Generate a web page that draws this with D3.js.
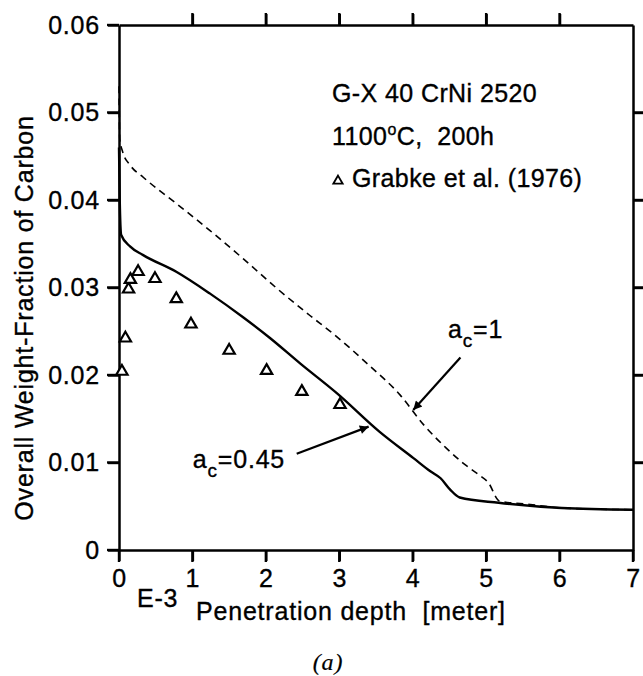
<!DOCTYPE html>
<html>
<head>
<meta charset="utf-8">
<script src="https://cdn.jsdelivr.net/npm/d3@7"></script>
<style>
  body { margin: 0; background: #fff; }
  svg { font-family: "Liberation Sans", Arial, sans-serif; }
  svg text { white-space: pre; letter-spacing: 0.8px; stroke: #000; stroke-width: 0.35px; fill: #000; }
</style>
</head>
<body>
<div id="chart"></div>
<script>
// a_c = 0.45 (solid line)
var solidX = [0, 0.01, 0.03, 0.15, 0.33, 0.78, 1.24, 1.69, 2.06, 2.47, 2.97, 3.55, 4.01, 4.24, 4.38, 4.51, 4.64, 5.17, 6.03, 7.0];
var solidY = [0.046, 0.040, 0.036, 0.0347, 0.0337, 0.0318, 0.0293, 0.0266, 0.0242, 0.0213, 0.0179, 0.0135, 0.0105, 0.0090, 0.0082, 0.0069, 0.0060, 0.0054, 0.0048, 0.0046];

// a_c = 1 (dashed line)
var dashX = [0, 0.01, 0.05, 0.15, 0.33, 0.78, 1.24, 1.69, 2.15, 2.60, 2.92, 3.38, 3.83, 4.15, 4.45, 4.69, 4.90, 5.03, 5.18, 5.6, 6.03, 7.0];
var dashY = [0.053, 0.047, 0.0455, 0.0440, 0.0426, 0.0396, 0.0365, 0.0333, 0.0299, 0.0268, 0.0247, 0.0213, 0.0177, 0.0143, 0.0117, 0.0099, 0.0086, 0.0077, 0.0056, 0.0052, 0.0048, 0.0046];

// Grabke et al. (1976) measurements
var obsX = [0.04, 0.087, 0.13, 0.155, 0.26, 0.49, 0.78, 0.98, 1.5, 2.01, 2.49, 3.01];
var obsY = [0.0204, 0.0242, 0.0298, 0.0309, 0.0318, 0.0310, 0.0287, 0.0258, 0.0228, 0.0205, 0.0181, 0.0166];

var xTicks = [0, 1, 2, 3, 4, 5, 6, 7];
var yTicks = [0, 0.01, 0.02, 0.03, 0.04, 0.05, 0.06];

var legendLines = ["G-X 40 CrNi 2520", "1100\u00b0C,  200h", "Grabke et al. (1976)"];

var margin = {top: 25, left: 119};

var x = d3.scaleLinear().domain([0, 7]).range([0, 514]);
var y = d3.scaleLinear().domain([0, 0.06]).range([525, 0]);

var svg = d3.select("#chart").append("svg")
    .attr("width", 643)
    .attr("height", 676);

var g = svg.append("g")
    .attr("transform", "translate(" + margin.left + "," + margin.top + ")");

function fmtY(d) { return d === 0 ? "0" : d3.format(".2f")(d); }

// axes, ticks outward on all four sides
var axes = [
  {ax: d3.axisBottom(x).tickValues(xTicks).tickFormat(d3.format("d")), t: "translate(0,525)"},
  {ax: d3.axisTop(x).tickValues(xTicks.slice(1, -1)).tickFormat(""), t: "translate(0,0)"},
  {ax: d3.axisLeft(y).tickValues(yTicks).tickFormat(fmtY), t: "translate(0,0)"},
  {ax: d3.axisRight(y).tickValues(yTicks.slice(1, -1)).tickFormat(""), t: "translate(514,0)"}
];
axes.forEach(function (a) {
  var ag = g.append("g")
      .attr("class", "axis")
      .attr("transform", a.t)
      .call(a.ax.tickSizeInner(11).tickSizeOuter(0).tickPadding(8));
  ag.select(".domain").attr("stroke-width", 2.5).attr("stroke", "#000");
  ag.selectAll(".tick line").attr("stroke-width", 2.4).attr("stroke", "#000");
  ag.selectAll(".tick text").attr("font-size", 25)
      .attr("font-family", "Liberation Sans, Arial, sans-serif");
});

// filled tick bars as well (outward)
var tb = g.append("g").attr("fill", "#000");
tb.selectAll(".xb").data(xTicks).enter().append("rect")
    .attr("x", function (d) { return x(d) - 1.2; }).attr("y", 525)
    .attr("width", 2.4).attr("height", 12);
tb.selectAll(".xt").data(xTicks.slice(1, -1)).enter().append("rect")
    .attr("x", function (d) { return x(d) - 1.2; }).attr("y", -12)
    .attr("width", 2.4).attr("height", 12);
tb.selectAll(".yl").data(yTicks).enter().append("rect")
    .attr("x", -12).attr("y", function (d) { return y(d) - 1.2; })
    .attr("width", 12).attr("height", 2.4);
tb.selectAll(".yr").data(yTicks.slice(1, -1)).enter().append("rect")
    .attr("x", 514).attr("y", function (d) { return y(d) - 1.2; })
    .attr("width", 12).attr("height", 2.4);

var line = d3.line()
    .x(function (d) { return x(d[0]); })
    .y(function (d) { return y(d[1]); })
    .curve(d3.curveMonotoneX);

g.append("path")
    .datum(d3.zip(dashX, dashY))
    .attr("fill", "none")
    .attr("stroke", "#000")
    .attr("stroke-width", 1.6)
    .attr("stroke-dasharray", "7,5")
    .attr("d", line);

g.append("path")
    .datum(d3.zip(solidX, solidY))
    .attr("fill", "none")
    .attr("stroke", "#000")
    .attr("stroke-width", 2.4)
    .attr("d", line);

var tri = d3.symbol().type(d3.symbolTriangle).size(55);
g.selectAll(".obs")
    .data(d3.zip(obsX, obsY))
    .enter().append("path")
    .attr("class", "obs")
    .attr("d", tri)
    .attr("transform", function (d) { return "translate(" + x(d[0]) + "," + y(d[1]) + ")"; })
    .attr("fill", "#fff")
    .attr("stroke", "#000")
    .attr("stroke-width", 2.2);

// legend text block
var leg = svg.append("g").attr("font-size", 25);
leg.append("text").attr("x", 332).attr("y", 102).style("letter-spacing", "0.4px").text(legendLines[0]);
var l2 = leg.append("text").attr("x", 332).attr("y", 145).style("letter-spacing", "0.4px");
l2.append("tspan").text("1100");
l2.append("tspan").attr("dy", -10).attr("font-size", 16).text("o");
l2.append("tspan").attr("dy", 10).text("C,  200h");
leg.append("path")
    .attr("d", d3.symbol().type(d3.symbolTriangle).size(38)())
    .attr("transform", "translate(338,181)")
    .attr("fill", "#fff").attr("stroke", "#000").attr("stroke-width", 1.8);
leg.append("text").attr("x", 352).attr("y", 187).style("letter-spacing", "0.4px").text(legendLines[2]);

// curve labels + arrows
svg.append("defs").append("marker")
    .attr("id", "arr").attr("viewBox", "0 0 10 10")
    .attr("refX", 10).attr("refY", 5)
    .attr("markerWidth", 7).attr("markerHeight", 4)
    .attr("markerUnits", "strokeWidth")
    .attr("orient", "auto")
    .append("path").attr("d", "M0,0L10,5L0,10z").attr("fill", "#000");

var notes = [
  {lab: "1", lx: 4.48, ly: 0.0242, x1: 4.65, y1: 0.0220, x2: 4.007, y2: 0.0160},
  {lab: "0.45", lx: 1.005, ly: 0.0094, x1: 2.42, y1: 0.0110, x2: 3.40, y2: 0.0141}
];
notes.forEach(function (n) {
  g.append("line")
      .attr("x1", x(n.x1)).attr("y1", y(n.y1))
      .attr("x2", x(n.x2)).attr("y2", y(n.y2))
      .attr("stroke", "#000").attr("stroke-width", 2.2)
      .attr("marker-end", "url(#arr)");
  var t = g.append("text")
      .attr("x", x(n.lx)).attr("y", y(n.ly))
      .attr("font-size", 25);
  t.append("tspan").text("a");
  t.append("tspan").attr("dy", 9).attr("font-size", 19).text("c");
  t.append("tspan").attr("dy", -9).text("=" + n.lab);
});

// axis titles
svg.append("text")
    .attr("transform", "translate(33,318) rotate(-90)")
    .attr("text-anchor", "middle")
    .attr("font-size", 25)
    .text("Overall Weight-Fraction of Carbon");

svg.append("text")
    .attr("x", 196).attr("y", 620)
    .attr("font-size", 25)
    .text("Penetration depth  [meter]");

svg.append("text")
    .attr("x", 137).attr("y", 607)
    .attr("font-size", 25)
    .text("E-3");

svg.append("text")
    .attr("x", 328).attr("y", 670)
    .attr("text-anchor", "middle")
    .attr("font-family", "Liberation Serif, Times New Roman, serif")
    .attr("font-style", "italic")
    .attr("font-size", 24)
    .style("stroke-width", "0.2px")
    .text("(a)");
</script>
</body>
</html>
